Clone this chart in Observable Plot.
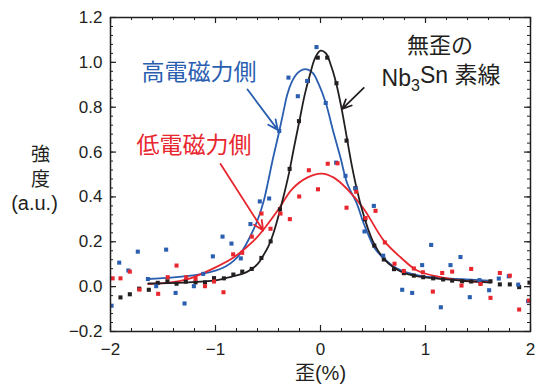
<!DOCTYPE html>
<html><head><meta charset="utf-8">
<script src="https://cdn.jsdelivr.net/npm/d3@7"></script>
<script src="https://cdn.jsdelivr.net/npm/@observablehq/plot@0.6"></script>
<style>
body{margin:0;background:#fff;}
</style></head><body><div id="chart"></div>
<script>
// ---- data ----
const blackX = [-1.905,-1.816,-1.727,-1.635,-1.55,-1.458,-1.371,-1.283,-1.19,-1.10,-1.014,-0.92,-0.83,-0.745,-0.655,-0.563,-0.475,-0.386,-0.294,-0.205,-0.12,-0.026,0.064,0.152,0.248,0.333,0.424,0.512,0.603,0.700,0.794,0.889,0.978,1.073,1.168,1.254,1.349,1.435,1.524,1.619,1.708,1.803,1.892,1.99];
const blackY = [-0.048,-0.034,-0.009,-0.014,0.017,0.024,0.013,0.022,0.019,0.019,0.038,0.037,0.054,0.067,0.079,0.128,0.202,0.345,0.525,0.738,0.917,1.021,1.021,0.907,0.651,0.439,0.3,0.183,0.121,0.078,0.06,0.049,0.042,0.037,0.032,0.027,0.024,0.023,0.018,0.024,0.01,0.01,-0.002,0.018];

const blueX = [-1.99,-1.917,-1.83,-1.74,-1.644,-1.565,-1.47,-1.38,-1.295,-1.206,-1.117,-1.025,-0.933,-0.848,-0.759,-0.667,-0.578,-0.489,-0.393,-0.305,-0.216,-0.127,-0.038,0.05,0.149,0.238,0.333,0.419,0.508,0.597,0.778,0.873,0.968,1.054,1.146,1.238,1.333,1.422,1.514,1.606,1.698,1.793,1.883,1.978];
const blueY = [-0.085,0.107,0.072,0.156,0.034,0.002,0.165,-0.028,-0.075,0.002,0.057,0.135,0.223,0.192,0.126,0.279,0.38,0.393,0.694,0.932,0.849,0.917,1.068,0.819,0.553,0.494,0.437,0.246,0.36,0.138,-0.014,-0.028,0.096,0.186,-0.092,0.096,0.132,-0.047,0.029,-0.016,0.036,0.046,0.009,-0.065];

const redX = [-1.98,-1.905,-1.816,-1.724,-1.546,-1.455,-1.371,-1.279,-1.19,-1.10,-1.014,-0.924,-0.832,-0.746,-0.654,-0.562,-0.476,-0.381,-0.292,-0.203,-0.111,-0.024,0.069,0.162,0.248,0.34,0.429,0.524,0.613,0.705,0.794,0.889,0.975,1.07,1.159,1.254,1.343,1.435,1.524,1.619,1.708,1.803,1.892,1.985];
const redY = [0.037,0.037,0.067,-0.013,-0.032,0.042,0.094,0.042,0.035,0.002,0.023,-0.025,0.144,0.151,0.223,0.326,0.258,0.326,0.301,0.402,0.519,0.434,0.548,0.55,0.352,0.423,0.306,0.338,0.197,0.102,0.07,0.081,0.064,-0.022,0.061,0.067,0.005,0.079,0.012,-0.05,0.061,0.049,-0.102,-0.062];

// fitted curves
const blackCurveX = [-1.64,-1.3,-1.0,-0.85,-0.7,-0.6,-0.55,-0.5,-0.45,-0.4,-0.35,-0.3,-0.25,-0.2,-0.15,-0.1,-0.05,0.0,0.05,0.1,0.15,0.2,0.25,0.3,0.35,0.4,0.45,0.5,0.6,0.7,0.8,0.9,1.0,1.2,1.4,1.62];
const blackCurveY = [0.014,0.018,0.028,0.044,0.066,0.1,0.135,0.176,0.236,0.316,0.406,0.506,0.626,0.741,0.856,0.946,1.021,1.052,1.041,0.986,0.906,0.796,0.666,0.536,0.426,0.336,0.261,0.201,0.126,0.084,0.06,0.048,0.041,0.032,0.025,0.018];

const blueCurveX = [-1.65,-1.4,-1.14,-1.0,-0.9,-0.825,-0.75,-0.667,-0.6,-0.54,-0.5,-0.46,-0.396,-0.35,-0.317,-0.27,-0.222,-0.17,-0.12,-0.07,-0.02,0.05,0.12,0.19,0.254,0.35,0.4,0.46,0.51,0.571,0.73,0.92,1.14,1.3,1.6];
const blueCurveY = [0.034,0.041,0.056,0.071,0.091,0.116,0.156,0.226,0.296,0.383,0.466,0.556,0.686,0.786,0.856,0.916,0.951,0.968,0.968,0.951,0.906,0.82,0.694,0.576,0.461,0.366,0.296,0.226,0.176,0.141,0.081,0.051,0.038,0.034,0.027];

const redCurveX = [-1.64,-1.28,-1.0,-0.825,-0.635,-0.54,-0.41,-0.27,-0.127,0.01,0.127,0.254,0.413,0.603,0.762,0.92,1.143,1.397,1.619];
const redCurveY = [0.011,0.031,0.086,0.131,0.205,0.256,0.338,0.435,0.486,0.504,0.486,0.435,0.346,0.205,0.131,0.072,0.042,0.024,0.02];

const xTickLabels = [-2,-1,0,1,2];
const yTickLabels = [-0.2,0,0.2,0.4,0.6,0.8,1.0,1.2];

// ---- tables ----
const zipXY = (xs, ys) => xs.map((x, i) => ({x, y: ys[i]}));
const blackPts = zipXY(blackX, blackY), bluePts = zipXY(blueX, blueY), redPts = zipXY(redX, redY);
const blackCurve = zipXY(blackCurveX, blackCurveY), blueCurve = zipXY(blueCurveX, blueCurveY), redCurve = zipXY(redCurveX, redCurveY);

const BLACK = "#231f20", BLUE = "#2a5eb0", RED = "#e8262e";
const FONT = "'Liberation Sans', Arial, 'Noto Sans CJK JP', sans-serif";
const CJK = "'Noto Sans CJK JP', sans-serif";
const W = 536, H = 392, mL = 110, mR = 6, mT = 17, mB = 61;
const fw = W - mL - mR, fh = H - mT - mB;
const xMinor = d3.range(-2, 2.0001, 0.2);
const yMinor = d3.range(-0.2, 1.2001, 0.04);

const svg = Plot.plot({
  width: W, height: H,
  marginLeft: mL, marginRight: mR, marginTop: mT, marginBottom: mB,
  style: {fontFamily: FONT, fontSize: "17px", color: BLACK, background: "#fff"},
  x: {domain: [-2, 2], ticks: xTickLabels, tickSize: 0, tickPadding: 11, tickFormat: d => d3.format("d")(d), label: null},
  y: {domain: [-0.2, 1.2], ticks: yTickLabels, tickSize: 0, tickPadding: 8, tickFormat: d3.format(".1f"), label: null},
  marks: [
    // inward ticks on all four sides
    Plot.tickX(xMinor, {x: d => d, insetTop: fh - 3, stroke: BLACK, strokeWidth: 1}),
    Plot.tickX(xMinor, {x: d => d, insetBottom: fh - 3, stroke: BLACK, strokeWidth: 1}),
    Plot.tickX(xTickLabels, {x: d => d, insetTop: fh - 6, stroke: BLACK, strokeWidth: 1.2}),
    Plot.tickX(xTickLabels, {x: d => d, insetBottom: fh - 6, stroke: BLACK, strokeWidth: 1.2}),
    Plot.tickY(yMinor, {y: d => d, insetRight: fw - 3, stroke: BLACK, strokeWidth: 1}),
    Plot.tickY(yMinor, {y: d => d, insetLeft: fw - 3, stroke: BLACK, strokeWidth: 1}),
    Plot.tickY(yTickLabels, {y: d => d, insetRight: fw - 6, stroke: BLACK, strokeWidth: 1.2}),
    Plot.tickY(yTickLabels, {y: d => d, insetLeft: fw - 6, stroke: BLACK, strokeWidth: 1.2}),
    // curves
    Plot.line(blueCurve, {x: "x", y: "y", stroke: BLUE, strokeWidth: 1.8, curve: "catmull-rom"}),
    Plot.line(redCurve, {x: "x", y: "y", stroke: RED, strokeWidth: 1.8, curve: "catmull-rom"}),
    Plot.line(blackCurve, {x: "x", y: "y", stroke: BLACK, strokeWidth: 1.8, curve: "catmull-rom"}),
    // points
    Plot.dot(blackPts, {x: "x", y: "y", symbol: "square", r: 2.3, fill: BLACK, clip: true}),
    Plot.dot(bluePts, {x: "x", y: "y", symbol: "square", r: 2.3, fill: BLUE, clip: true}),
    Plot.dot(redPts, {x: "x", y: "y", symbol: "square", r: 2.3, fill: RED, clip: true}),
    // frame
    Plot.frame({stroke: BLACK, strokeWidth: 1.5}),
    // annotations
    Plot.text(["高電磁力側"], {x: -1.157, y: 0.952, fill: BLUE, fontSize: 23, fontFamily: CJK}),
    Plot.arrow([0], {x1: -0.695, y1: 0.879, x2: -0.407, y2: 0.699, stroke: BLUE, strokeWidth: 1.8, headLength: 9, headAngle: 50}),
    Plot.text(["低電磁力側"], {x: -1.205, y: 0.629, fill: RED, fontSize: 23, fontFamily: CJK}),
    Plot.arrow([0], {x1: -0.952, y1: 0.547, x2: -0.546, y2: 0.25, stroke: RED, strokeWidth: 1.8, headLength: 9, headAngle: 50}),
    Plot.text(["無歪の"], {x: 1.138, y: 1.071, fill: BLACK, fontSize: 22, fontFamily: CJK}),
    Plot.text(["Nb3Sn 素線"], {x: 1.148, y: 0.928, fill: BLACK, fontSize: 23}),
    Plot.arrow([0], {x1: 0.412, y1: 0.886, x2: 0.207, y2: 0.793, stroke: BLACK, strokeWidth: 1.8, headLength: 9, headAngle: 50}),
    // axis labels
    Plot.text(["歪(%)"], {frameAnchor: "bottom", dy: 48, fontSize: 20, letterSpacing: 1}),
    Plot.text(["強"], {frameAnchor: "left", textAnchor: "middle", y: 0.589, dx: -70, fontSize: 19, fontFamily: CJK}),
    Plot.text(["度"], {frameAnchor: "left", textAnchor: "middle", y: 0.4775, dx: -70, fontSize: 19, fontFamily: CJK}),
    Plot.text(["(a.u.)"], {frameAnchor: "left", textAnchor: "middle", y: 0.37, dx: -76, fontSize: 20, letterSpacing: 1.5})
  ]
});

// subscript for Nb3Sn
d3.select(svg).selectAll("text").filter(function() { return this.textContent === "Nb3Sn 素線"; })
  .each(function() {
    const t = d3.select(this);
    t.text(null);
    t.append("tspan").text("Nb");
    t.append("tspan").attr("dy", "0.35em").attr("font-size", "16").text("3");
    t.append("tspan").attr("dy", "-0.35em").text("Sn 素線");
  });

document.getElementById("chart").appendChild(svg);
</script></body></html>
